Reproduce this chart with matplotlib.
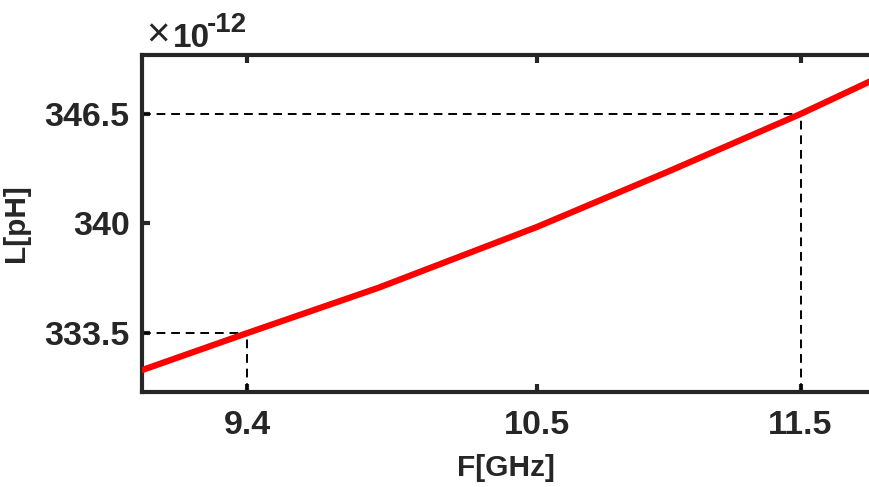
import matplotlib
matplotlib.use("Agg")
import matplotlib.pyplot as plt

plt.rcParams['font.family'] = ['Liberation Sans', 'DejaVu Sans']
plt.rcParams['font.weight'] = 'bold'

# 电感随频率变化 (L 以 pH 计)
freq_ghz = [9.0, 9.4, 9.9, 10.5, 11.0, 11.5, 11.8]
ind_ph = [331.3, 333.5, 336.2, 339.8, 343.1, 346.5, 348.7]

# 标注点
mark_f = [9.4, 11.5]
mark_l = [333.5, 346.5]

xticks = [9.4, 10.5, 11.5]
yticks = [333.5, 340, 346.5]

ink = '#262626'

fig = plt.figure(figsize=(8.69, 4.87), dpi=100)
ax = fig.add_axes([142 / 869, 1 - 392 / 487, 1 - 142 / 869, (392 - 55) / 487])

ax.plot(freq_ghz, ind_ph, color='red', lw=4.5, zorder=3)

ymin, ymax = 330, 350
xmin, xmax = 9.0, 11.76
for f, l in zip(mark_f, mark_l):
    ax.plot([xmin, f], [l, l], 'k--', lw=1.4, dashes=(4.5, 3), zorder=2)
    ax.plot([f, f], [ymin, l], 'k--', lw=1.4, dashes=(4.5, 3), zorder=2)

ax.set_xlim(xmin, xmax)
ax.set_ylim(ymin, ymax)
ax.set_xticks(xticks)
ax.set_xticklabels(['9.4', '10.5', '11.5'])
ax.set_yticks(yticks)
ax.set_yticklabels(['333.5', '340', '346.5'])

ax.spines['right'].set_visible(False)
for s in ['left', 'top', 'bottom']:
    ax.spines[s].set_linewidth(3)
    ax.spines[s].set_color(ink)
ax.tick_params(axis='both', direction='in', length=6, width=3, color=ink,
               labelsize=24.5, labelcolor=ink, top=True, pad=9)
ax.tick_params(axis='x', pad=13)
for lab in ax.get_xticklabels() + ax.get_yticklabels():
    lab.set_fontweight('bold')

ax.set_xlabel('F[GHz]', fontsize=21.5, fontweight='bold', color=ink, labelpad=9)
ax.set_ylabel('L[pH]', fontsize=21.5, fontweight='bold', color=ink, labelpad=10)

# 纵轴量级
ax.annotate('×', xy=(0, 1), xycoords='axes fraction', xytext=(3, 6),
            textcoords='offset points', fontsize=29, fontweight='normal',
            color=ink, ha='left', va='baseline')
ax.annotate('10', xy=(0, 1), xycoords='axes fraction', xytext=(22, 6),
            textcoords='offset points', fontsize=24, fontweight='bold',
            color=ink, ha='left', va='baseline')
ax.annotate('-12', xy=(0, 1), xycoords='axes fraction', xytext=(47, 16.5),
            textcoords='offset points', fontsize=20, fontweight='bold',
            color=ink, ha='left', va='baseline')

fig.savefig('out.png', dpi=100)
